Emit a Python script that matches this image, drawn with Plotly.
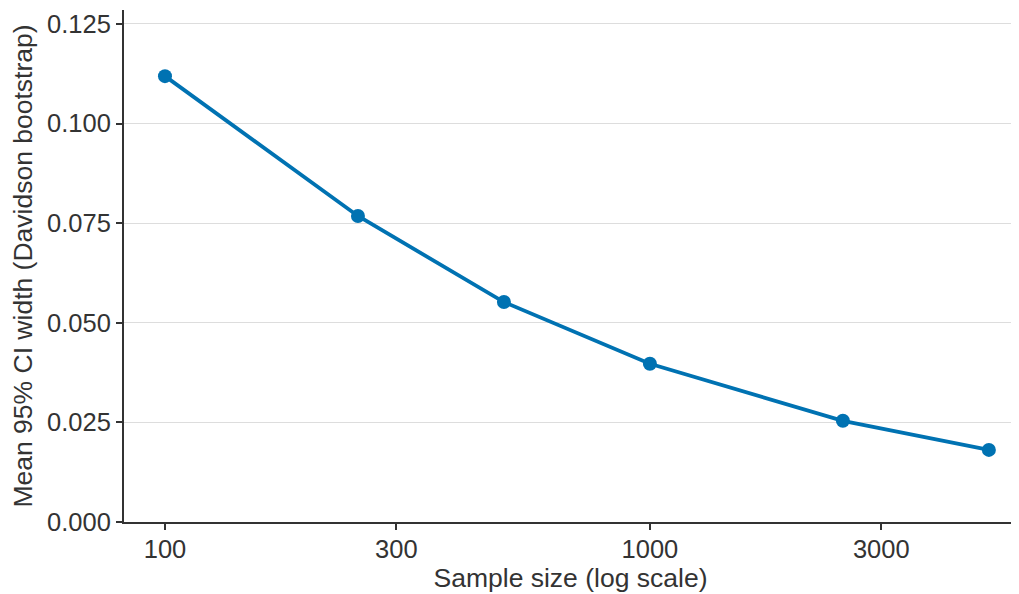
import plotly.graph_objects as go
import math

sample_sizes = [100, 250, 500, 1000, 2500, 5000]
ci_width = [0.1119, 0.0768, 0.0552, 0.0397, 0.0254, 0.0181]
x_ticks = [100, 300, 1000, 3000]
y_ticks = [0, 0.025, 0.05, 0.075, 0.1, 0.125]

color = "#0072B2"
axis_col = "#333333"
text_col = "#333333"
font_fam = "Liberation Sans, Arial, sans-serif"
tick_size = 25.5
title_size = 26.5

fig = go.Figure()
fig.add_trace(go.Scatter(
    x=sample_sizes, y=ci_width, mode="lines+markers",
    line=dict(color=color, width=3.8),
    marker=dict(color=color, size=14),
    showlegend=False,
))

# page body has an 8px default margin; margins compensate for it
fig.update_layout(
    width=1019, height=594,
    margin=dict(l=116, r=10, t=2, b=80),
    paper_bgcolor="white", plot_bgcolor="white",
    font=dict(family=font_fam, size=tick_size, color=text_col),
)
fig.update_xaxes(
    type="log", range=[math.log10(100) - 0.0845, math.log10(100) + 1.757],
    tickvals=x_ticks, ticktext=[str(v) for v in x_ticks],
    tickfont=dict(family=font_fam, size=tick_size, color=text_col),
    showgrid=False, showline=True, linecolor=axis_col, linewidth=2,
    ticks="outside", ticklen=6, tickcolor=axis_col, tickwidth=1.5,
    ticklabelstandoff=-3,
    title=dict(text="Sample size (log scale)", standoff=2,
               font=dict(family=font_fam, size=title_size, color=text_col)),
    zeroline=False, automargin=False,
)
fig.update_yaxes(
    range=[0, 0.1285],
    tickvals=y_ticks, ticktext=[f"{v:.3f}" for v in y_ticks],
    tickfont=dict(family=font_fam, size=tick_size, color=text_col),
    showgrid=True, gridcolor="#dddddd", gridwidth=1,
    showline=True, linecolor=axis_col, linewidth=2,
    ticks="outside", ticklen=6, tickcolor=axis_col, tickwidth=1.5,
    title=dict(text="Mean 95% CI width (Davidson bootstrap)", standoff=7,
               font=dict(family=font_fam, size=title_size, color=text_col)),
    zeroline=False, automargin=False,
)

fig.write_html("out.html")
